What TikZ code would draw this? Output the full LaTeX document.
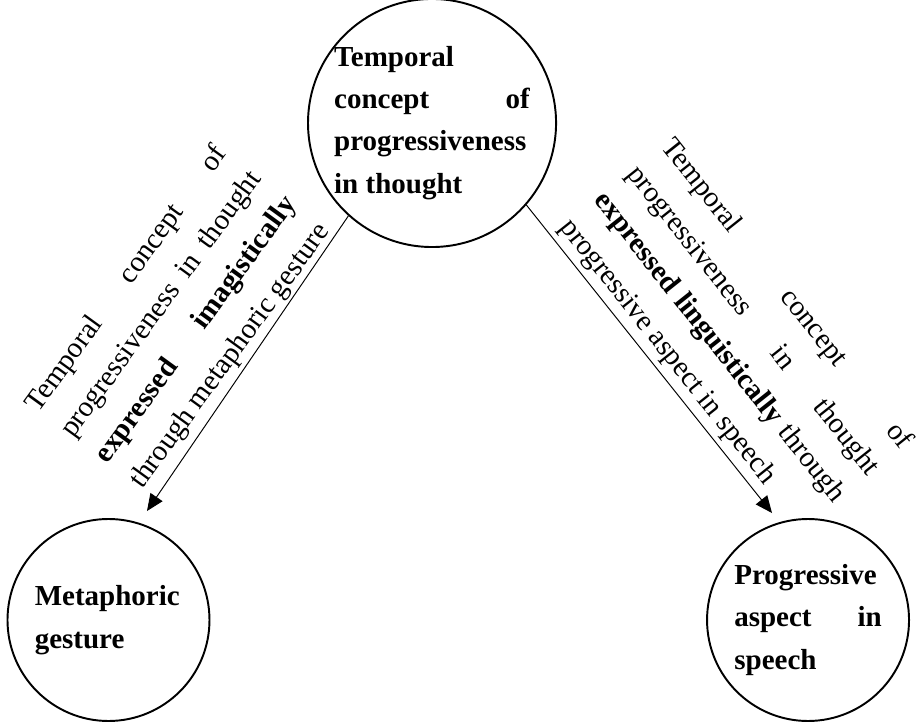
\documentclass[tikz,border=0pt]{standalone}
\usepackage{fontspec}
\setmainfont{Liberation Serif}
\usetikzlibrary{arrows.meta}
\hyphenpenalty=10000
\tolerance=10000
\hbadness=10000

\begin{document}
\begin{tikzpicture}[
  idea/.style={draw, circle, line width=0.8pt, inner sep=0pt, align=justify,
               font=\fontsize{12}{17.5}\selectfont\bfseries},
  gloss/.style={inner sep=0pt, align=justify, anchor=base west,
                font=\fontsize{12}{17.8}\selectfont},
  ar/.style={-{Triangle[length=7pt,width=6pt]}, line width=0.4pt},
]
\useasboundingbox (0,0) rectangle (13.396,10.56);
% --- the three concepts -----------------------------------------------
\node[idea, minimum size=3.375cm, text width=81pt] (thought) at (6.284,8.771)
  {Temporal concept of progressiveness in thought};
\node[idea, minimum size=2.938cm, text width=61pt] (gest) at (1.578,1.542)
  {Metaphoric gesture};
\node[idea, minimum size=2.938cm, text width=61pt] (speech) at (11.753,1.542)
  {Progressive aspect in speech};

% --- the two ways out of thought ---------------------------------------
\coordinate (gest-in) at (2.138,3.127);
\coordinate (speech-in) at (11.229,3.098);
\draw[ar] (thought.228) -- (gest-in);
\draw[ar] (thought.319) -- (speech-in);

\node[gloss, text width=133pt, rotate=54] (imag) at (0.553,4.538)
  {Temporal concept of progressiveness in thought
   {\bfseries expressed imagistically} through metaphoric gesture};
\node[gloss, text width=160pt, rotate=-51.5] (ling) at (9.600,8.422)
  {Temporal concept of progressiveness in thought
   {\bfseries expressed linguistically} through progressive aspect in speech};
\end{tikzpicture}
\end{document}
